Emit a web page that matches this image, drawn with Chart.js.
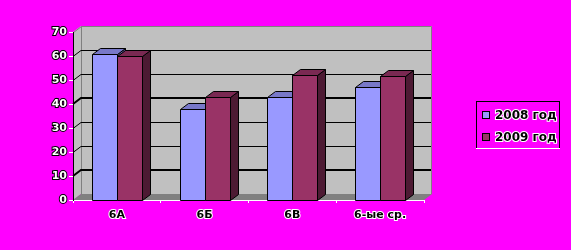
<!DOCTYPE html>
<html lang="ru">
<head>
    <meta charset="UTF-8">
    <title>6 классы | 2008-2009</title>
    <script src="https://cdn.jsdelivr.net/npm/chart.js"></script>
    <style>
        html, body { margin: 0; padding: 0; background: #ff00ff; }
        canvas { display: block; }
    </style>
</head>
<body>
    <canvas id="grafico" width="571" height="250"></canvas>

<script>
    // dados
    var classes = ['6А', '6Б', '6В', '6-ые ср.'];
    var anos = ['2008 год', '2009 год'];
    var valores2008 = [60.7, 37.8, 43, 47.2];
    var valores2009 = [59.9, 43, 52, 51.7];
    var eixoMin = 0, eixoMax = 70, passo = 10;

    // cores de cada serie: frente, topo, lateral
    var corFrente = ['#9999ff', '#993366'];
    var corTopo = ['#7878c8', '#7a2952'];
    var corLado = ['#5c5c99', '#4d1a33'];

    var DX = 8, DY = -6; // profundidade do efeito 3D
    var fonte = 'DejaVu Sans';

    function poligono(ctx, pts, cor) {
        ctx.beginPath();
        ctx.moveTo(pts[0][0] + .5, pts[0][1] + .5);
        for (var k = 1; k < pts.length; k++) ctx.lineTo(pts[k][0] + .5, pts[k][1] + .5);
        ctx.closePath();
        ctx.fillStyle = cor;
        ctx.fill();
        ctx.strokeStyle = '#000';
        ctx.lineWidth = 1;
        ctx.stroke();
    }

    // fundo, paredes e chao
    const paredes = {
        id: 'paredes',
        beforeDraw(chart) {
            const ctx = chart.ctx, a = chart.chartArea, ey = chart.scales.y;
            const L = a.left, R = a.right, T = a.top, B = a.bottom;
            ctx.save();
            ctx.fillStyle = '#ff00ff';
            ctx.fillRect(0, 0, chart.width, chart.height);

            ctx.fillStyle = '#c0c0c0';
            ctx.beginPath();
            ctx.moveTo(L, T); ctx.lineTo(L + DX, T + DY); ctx.lineTo(L + DX, B + DY); ctx.lineTo(L, B);
            ctx.closePath(); ctx.fill();
            ctx.fillRect(L + DX, T + DY, R - L, B - T);

            ctx.fillStyle = '#808080';
            ctx.beginPath();
            ctx.moveTo(L, B); ctx.lineTo(L + DX, B + DY); ctx.lineTo(R + DX, B + DY); ctx.lineTo(R, B);
            ctx.closePath(); ctx.fill();

            // bordas da parede
            ctx.strokeStyle = '#808080';
            ctx.lineWidth = 1;
            ctx.beginPath();
            ctx.moveTo(L + .5, T + .5); ctx.lineTo(L + DX + .5, T + DY + .5);
            ctx.lineTo(R + DX - .5, T + DY + .5); ctx.lineTo(R + DX - .5, B + DY);
            ctx.moveTo(L + DX + .5, T + DY); ctx.lineTo(L + DX + .5, B + DY);
            ctx.stroke();

            // linhas de grade na parede
            ctx.strokeStyle = '#000';
            for (var v = eixoMin + passo; v < eixoMax; v += passo) {
                var py = Math.round(ey.getPixelForValue(v));
                var grossa = (v == 10 || v == 40);
                ctx.lineWidth = grossa ? 2 : 1;
                var o = grossa ? 0 : .5;
                ctx.beginPath();
                ctx.moveTo(L, py + o);
                ctx.lineTo(L + DX, py + DY + o);
                ctx.lineTo(R + DX - 1, py + DY + o);
                ctx.stroke();
            }
            ctx.restore();
        }
    };

    // colunas 3D desenhadas na ordem certa
    const colunas3d = {
        id: 'colunas3d',
        beforeDatasetsDraw(chart) {
            const ctx = chart.ctx;
            ctx.save();
            for (var j = 0; j < classes.length; j++) {
                for (var i = 0; i < chart.data.datasets.length; i++) {
                    var bar = chart.getDatasetMeta(i).data[j];
                    var p = bar.getProps(['x', 'y', 'base', 'width'], true);
                    var L = Math.round(p.x - p.width / 2), R = Math.round(p.x + p.width / 2);
                    var T = Math.round(p.y), B = Math.round(p.base);
                    poligono(ctx, [[R, T], [R + DX, T + DY], [R + DX, B + DY], [R, B]], corLado[i]);
                    poligono(ctx, [[L, T], [R, T], [R + DX, T + DY], [L + DX, T + DY]], corTopo[i]);
                    poligono(ctx, [[L, T], [R, T], [R, B], [L, B]], corFrente[i]);
                }
            }
            ctx.restore();
            return false;
        }
    };

    // legenda com moldura
    const legenda = {
        id: 'legenda',
        afterDraw(chart) {
            const ctx = chart.ctx;
            var lx = 476, ly = 101, lw = 83, lh = 47;
            ctx.save();
            ctx.lineWidth = 1;
            ctx.strokeStyle = '#000';
            ctx.strokeRect(lx + .5, ly + .5, lw, lh);
            ctx.strokeStyle = '#fff';
            ctx.beginPath();
            ctx.moveTo(lx, ly + lh + .5); ctx.lineTo(lx + lw + 1, ly + lh + .5);
            ctx.stroke();

            ctx.font = 'bold 12px "' + fonte + '"';
            ctx.textBaseline = 'middle';
            for (var i = 0; i < anos.length; i++) {
                var cy = 115 + i * 22;
                ctx.fillStyle = corFrente[i];
                ctx.fillRect(482, cy - 4, 8, 8);
                ctx.strokeStyle = '#000';
                ctx.strokeRect(482.5, cy - 3.5, 7, 7);
                ctx.lineWidth = 2;
                ctx.strokeStyle = '#fff';
                ctx.strokeText(anos[i], 495, cy + 1);
                ctx.fillStyle = '#000';
                ctx.fillText(anos[i], 495, cy + 1);
                ctx.lineWidth = 1;
            }
            ctx.restore();
        }
    };

    const config = {
        type: 'bar',
        data: {
            labels: classes,
            datasets: [{
                label: anos[0],
                data: valores2008,
                backgroundColor: corFrente[0],
                borderColor: '#000',
                borderWidth: 1
            }, {
                label: anos[1],
                data: valores2009,
                backgroundColor: corFrente[1],
                borderColor: '#000',
                borderWidth: 1
            }]
        },
        options: {
            responsive: false,
            animation: false,
            layout: { padding: { top: 32, right: 147, left: 0, bottom: 0 } },
            datasets: { bar: { categoryPercentage: 0.57, barPercentage: 1 } },
            plugins: {
                legend: { display: false },
                tooltip: { enabled: false },
                title: { display: false }
            },
            scales: {
                x: {
                    afterFit: function (s) { s.height = 50; },
                    grid: { drawOnChartArea: false, color: '#fff', tickLength: 3 },
                    border: { color: '#fff' },
                    ticks: {
                        color: '#000',
                        textStrokeColor: '#fff',
                        textStrokeWidth: 2,
                        padding: 6,
                        font: { family: fonte, size: 11, weight: 'bold' }
                    }
                },
                y: {
                    min: eixoMin,
                    max: eixoMax,
                    afterFit: function (s) { s.width = 73; },
                    grid: { drawOnChartArea: false, color: '#fff', tickLength: 4 },
                    border: { color: '#000' },
                    ticks: {
                        stepSize: passo,
                        color: '#fff',
                        textStrokeColor: '#000',
                        textStrokeWidth: 2,
                        padding: 2,
                        font: { family: fonte, size: 11, weight: 'bold' }
                    }
                }
            }
        },
        plugins: [paredes, colunas3d, legenda]
    };

    const grafico = new Chart(document.getElementById('grafico'), config);
</script>
</body>
</html>
